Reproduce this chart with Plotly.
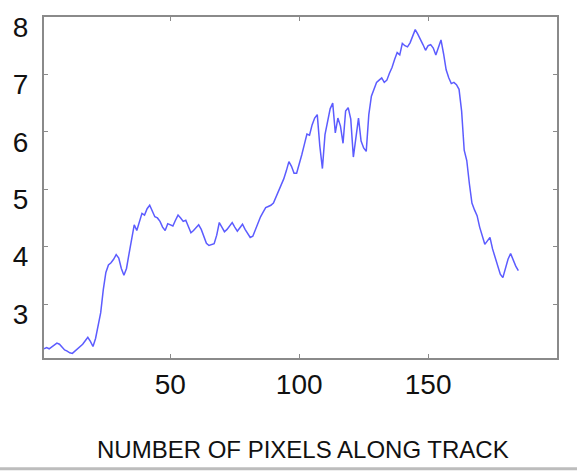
import plotly.graph_objects as go

pixels = list(range(1, 186))
values = [
    2.22, 2.24, 2.22, 2.25, 2.28, 2.32, 2.30, 2.24, 2.20, 2.18,
    2.15, 2.14, 2.18, 2.22, 2.26, 2.30, 2.36, 2.42, 2.35, 2.26,
    2.40, 2.62, 2.85, 3.25, 3.55, 3.68, 3.72, 3.78, 3.86, 3.80,
    3.62, 3.50, 3.62, 3.88, 4.10, 4.38, 4.28, 4.42, 4.58, 4.55,
    4.66, 4.72, 4.62, 4.52, 4.50, 4.44, 4.34, 4.28, 4.40, 4.38,
    4.36, 4.46, 4.55, 4.50, 4.44, 4.46, 4.36, 4.24, 4.28, 4.34,
    4.38, 4.30, 4.16, 4.06, 4.02, 4.04, 4.05, 4.20, 4.42, 4.34,
    4.26, 4.30, 4.36, 4.42, 4.34, 4.27, 4.33, 4.39, 4.30, 4.22,
    4.16, 4.18, 4.30, 4.42, 4.52, 4.60, 4.68, 4.70, 4.72, 4.76,
    4.86, 4.96, 5.06, 5.18, 5.32, 5.48, 5.40, 5.28, 5.28, 5.42,
    5.60, 5.78, 5.96, 5.94, 6.12, 6.24, 6.30, 5.75, 5.36, 5.95,
    6.20, 6.40, 6.50, 5.98, 6.24, 6.10, 5.80, 6.36, 6.42, 6.22,
    5.56, 5.95, 6.24, 5.84, 5.72, 5.66, 6.30, 6.62, 6.74, 6.86,
    6.90, 6.94, 6.86, 6.90, 7.02, 7.12, 7.26, 7.38, 7.34, 7.54,
    7.50, 7.48, 7.55, 7.68, 7.78, 7.70, 7.62, 7.52, 7.42, 7.50,
    7.52, 7.46, 7.34, 7.48, 7.60, 7.36, 7.08, 6.94, 6.84, 6.86,
    6.82, 6.74, 6.36, 5.68, 5.50, 5.10, 4.76, 4.64, 4.54, 4.34,
    4.20, 4.04, 4.10, 4.16, 3.96, 3.80, 3.66, 3.52, 3.46, 3.62,
    3.78, 3.88, 3.76, 3.66, 3.58,
]
x_ticks = [50, 100, 150, 200]
y_ticks = [3, 4, 5, 6, 7, 8]
x_title = "NUMBER OF PIXELS ALONG TRACK"

FONT = "Liberation Sans, Arial, sans-serif"

fig = go.Figure()
fig.add_trace(go.Scatter(x=pixels, y=values, mode="lines",
                         line=dict(color="#5c5cff", width=1.5),
                         showlegend=False, hoverinfo="skip"))

axis_common = dict(showgrid=False, zeroline=False, showline=True,
                   linecolor="#8a8a8a", linewidth=2, mirror="ticks",
                   ticks="inside", ticklen=4, tickcolor="#8a8a8a", tickwidth=1,
                   tickfont=dict(family=FONT, size=28, color="#111111"))

fig.update_xaxes(range=[1, 200], tickvals=x_ticks, ticklabelstandoff=0, **axis_common)
fig.update_yaxes(range=[2.06, 8], tickvals=y_ticks, ticklabelstandoff=8,
                 ticklabelshift=10, **axis_common)

fig.add_annotation(text=x_title, xref="paper", yref="paper",
                   x=0.505, y=-(451 - 358) / 345, xanchor="center", yanchor="middle",
                   showarrow=False, font=dict(family=FONT, size=24, color="#111111"))

fig.add_shape(type="line", xref="paper", yref="paper",
              x0=-0.09, x1=1.05, y0=-(470 - 358) / 345, y1=-(470 - 358) / 345,
              line=dict(color="#bdbdbd", width=3))

fig.update_layout(width=577, height=472, margin=dict(l=44, r=20, t=13, b=114),
                  paper_bgcolor="white", plot_bgcolor="white")

fig.write_html("out.html")
